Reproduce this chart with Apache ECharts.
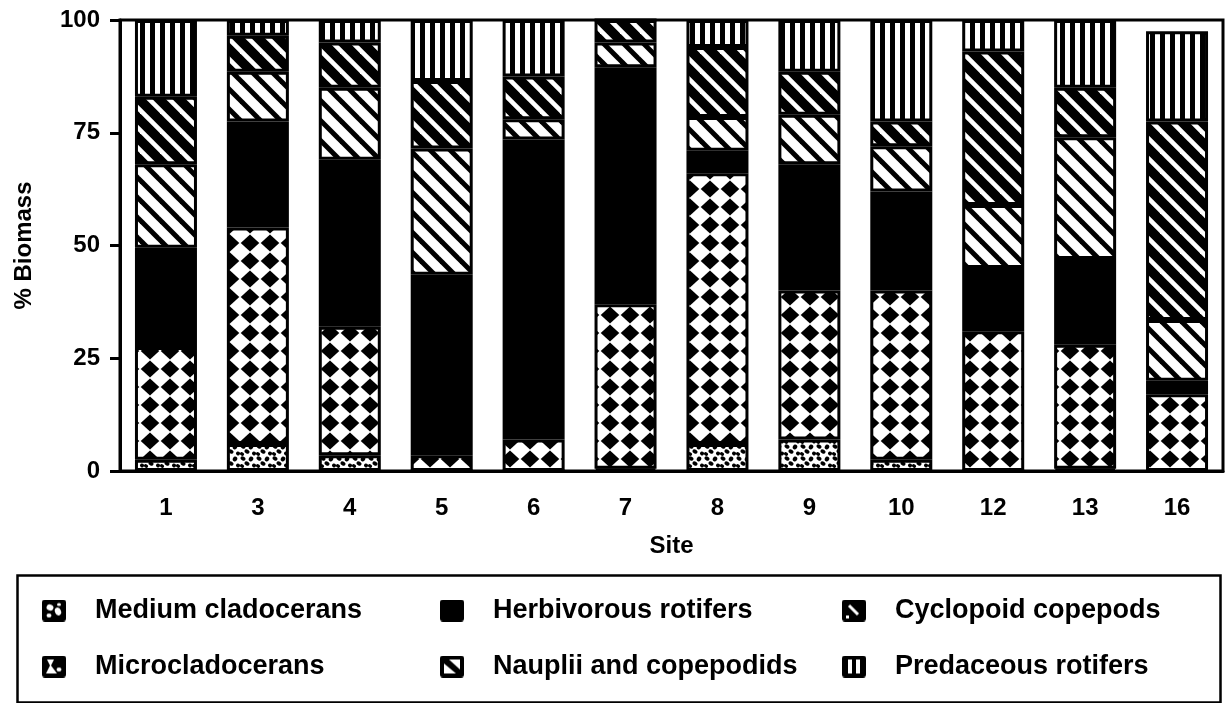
<!DOCTYPE html>
<html>
<head>
<meta charset="utf-8">
<script src="https://cdn.jsdelivr.net/npm/echarts@6/dist/echarts.min.js"></script>
<style>
  html, body { margin: 0; padding: 0; background: #fff; }
  #chart { width: 1232px; height: 703px; }
</style>
</head>
<body>
<div id="chart"></div>
<script>
// Zooplankton biomass composition (% of total) per site
const sites = ['1', '3', '4', '5', '6', '7', '8', '9', '10', '12', '13', '16'];
const mediumCladocerans   = [2.5, 6, 3.5, 0, 0, 0.5, 6, 7, 2.5, 0, 0.5, 0];
const microcladocerans    = [25, 48, 28.5, 3.5, 7, 36.5, 60, 33, 37.5, 31, 27.5, 17];
const herbivorousRotifers = [22, 23.5, 37, 40, 66.5, 52.5, 5, 28, 22, 14, 19, 3];
const naupliiCopepodids   = [18.5, 11, 16, 28, 4.5, 5.5, 7.5, 11, 10, 14, 27, 13.5];
const cyclopoidCopepods   = [15, 8, 10, 15, 9.5, 5, 15.5, 9.5, 5.5, 34, 11, 44];
const predaceousRotifers  = [17, 3.5, 5, 13.5, 12.5, 0, 6, 11.5, 22.5, 7, 15, 20];
const yTicks = [0, 25, 50, 75, 100];

const FONT = '"Liberation Sans", Arial, Helvetica, sans-serif';

function tile(w, h, draw) {
  const c = document.createElement('canvas');
  c.width = w; c.height = h;
  const g = c.getContext('2d');
  g.fillStyle = '#fff';
  g.fillRect(0, 0, w, h);
  g.fillStyle = '#000';
  g.strokeStyle = '#000';
  draw(g, w, h);
  return c;
}

// speckled fill
const speckle = tile(16, 12, (g) => {
  const blobs = [[3, 2.5, 2.6, 1.9], [11, 3, 2.2, 2.5], [7, 7.5, 2.7, 2.0], [14, 9.5, 2.0, 1.9], [2, 10, 2.1, 1.7]];
  blobs.forEach(([x, y, rx, ry]) => { g.beginPath(); g.ellipse(x, y, rx, ry, 0.5, 0, Math.PI * 2); g.fill(); });
});

// diamond checker fill: black diamonds on a 20 x 18 lattice
const diamonds = tile(20, 18, (g) => {
  g.beginPath();
  g.moveTo(10, 0.6); g.lineTo(19.3, 9); g.lineTo(10, 17.4); g.lineTo(0.7, 9);
  g.closePath(); g.fill();
});

// diagonal "\" hatch
function hatch(lineW) {
  return tile(20, 20, (g) => {
    g.lineWidth = lineW;
    for (let x = -40; x <= 40; x += 20) {
      g.beginPath(); g.moveTo(x - 5, -5); g.lineTo(x + 25, 25); g.stroke();
    }
  });
}
const lightHatch = hatch(5);
const heavyHatch = hatch(9.5);

// vertical stripes
const stripes = tile(10, 10, (g) => { g.fillRect(0, 0, 5, 10); });

// legend glyphs
function glyph(draw) {
  const c = document.createElement('canvas');
  c.width = 24; c.height = 22;
  const g = c.getContext('2d');
  g.fillStyle = '#000';
  g.beginPath();
  g.roundRect ? g.roundRect(0, 0, 24, 22, 3) : g.rect(0, 0, 24, 22);
  g.fill();
  g.fillStyle = '#fff';
  g.strokeStyle = '#fff';
  draw(g);
  return 'image://' + c.toDataURL();
}
const icons = {
  medium: glyph((g) => {
    g.beginPath(); g.ellipse(8, 8, 3.5, 3, 0.4, 0, Math.PI * 2); g.fill();
    g.beginPath(); g.ellipse(16, 12, 3, 4, -0.4, 0, Math.PI * 2); g.fill();
    g.beginPath(); g.ellipse(7, 16, 2.5, 2, 0, 0, Math.PI * 2); g.fill();
    g.beginPath(); g.ellipse(17, 5, 2, 1.6, 0, 0, Math.PI * 2); g.fill();
  }),
  micro: glyph((g) => {
    g.beginPath(); g.moveTo(5, 4); g.lineTo(12, 4); g.lineTo(9, 10); g.lineTo(15, 18); g.lineTo(4, 18); g.lineTo(8, 10); g.closePath(); g.fill();
    g.beginPath(); g.ellipse(17, 14, 2.5, 2, 0, 0, Math.PI * 2); g.fill();
  }),
  herb: glyph(() => {}),
  naup: glyph((g) => {
    g.fillRect(4, 4, 16, 14);
    g.fillStyle = '#000';
    g.beginPath(); g.moveTo(4, 4); g.lineTo(9, 4); g.lineTo(20, 14); g.lineTo(20, 18); g.lineTo(16, 18); g.lineTo(4, 8); g.closePath(); g.fill();
  }),
  cyclo: glyph((g) => {
    g.lineWidth = 3;
    g.beginPath(); g.moveTo(7, 6); g.lineTo(16, 15); g.stroke();
    g.fillRect(4, 16, 3, 3);
  }),
  pred: glyph((g) => { g.fillRect(6, 4, 4, 14); g.fillRect(14, 4, 4, 14); })
};

const groups = [
  { name: 'Medium cladocerans',    data: mediumCladocerans,   fill: speckle,    icon: icons.medium },
  { name: 'Microcladocerans',      data: microcladocerans,    fill: diamonds,   icon: icons.micro },
  { name: 'Herbivorous rotifers',  data: herbivorousRotifers, fill: '#000',     icon: icons.herb },
  { name: 'Nauplii and copepodids', data: naupliiCopepodids,  fill: lightHatch, icon: icons.naup },
  { name: 'Cyclopoid copepods',    data: cyclopoidCopepods,   fill: heavyHatch, icon: icons.cyclo },
  { name: 'Predaceous rotifers',   data: predaceousRotifers,  fill: stripes,    icon: icons.pred }
];

const series = groups.map((s) => ({
  name: s.name,
  type: 'bar',
  stack: 'biomass',
  barWidth: 62,
  data: s.data,
  silent: true,
  itemStyle: {
    color: typeof s.fill === 'string' ? s.fill : { image: s.fill, repeat: 'repeat' },
    borderColor: '#000',
    borderWidth: 3
  }
}));

function legendColumn(names, left) {
  return {
    orient: 'vertical',
    left: left,
    top: 592,
    itemWidth: 24,
    itemHeight: 22,
    itemGap: 29,
    selectedMode: false,
    data: names.map((n) => {
      const g = groups.find((x) => x.name === n);
      return { name: n, icon: g.icon };
    }),
    textStyle: { fontFamily: FONT, fontWeight: 'bold', fontSize: 27, color: '#000', padding: [0, 0, 0, 24] }
  };
}

const chart = echarts.init(document.getElementById('chart'), null, { renderer: 'canvas' });
chart.setOption({
  backgroundColor: '#fff',
  animation: false,
  grid: { left: 120, right: 9, top: 20, bottom: 232, show: true, borderColor: '#000', borderWidth: 3, backgroundColor: 'transparent' },
  xAxis: {
    type: 'category',
    data: sites,
    name: 'Site',
    nameLocation: 'middle',
    nameGap: 63,
    nameTextStyle: { fontFamily: FONT, fontWeight: 'bold', fontSize: 24, color: '#000' },
    axisLine: { lineStyle: { color: '#000', width: 3 } },
    axisTick: { alignWithLabel: true, length: 12, lineStyle: { color: '#000', width: 3 } },
    axisLabel: { margin: 25, fontFamily: FONT, fontWeight: 'bold', fontSize: 24, color: '#000' }
  },
  yAxis: {
    type: 'value',
    min: yTicks[0],
    max: yTicks[yTicks.length - 1],
    interval: yTicks[1] - yTicks[0],
    name: '% Biomass',
    nameLocation: 'middle',
    nameRotate: 90,
    nameGap: 84,
    nameTextStyle: { fontFamily: FONT, fontWeight: 'bold', fontSize: 24, color: '#000' },
    axisLine: { show: true, lineStyle: { color: '#000', width: 3 } },
    axisTick: { show: true, length: 10, lineStyle: { color: '#000', width: 3 } },
    splitLine: { show: false },
    axisLabel: { margin: 20, fontFamily: FONT, fontWeight: 'bold', fontSize: 24, color: '#000' }
  },
  legend: [
    legendColumn(['Medium cladocerans', 'Microcladocerans'], 37),
    legendColumn(['Herbivorous rotifers', 'Nauplii and copepodids'], 435),
    legendColumn(['Cyclopoid copepods', 'Predaceous rotifers'], 837)
  ],
  graphic: [{
    type: 'rect',
    left: 15,
    top: 573,
    shape: { width: 1203, height: 127 },
    style: { fill: 'none', stroke: '#000', lineWidth: 2.5 },
    silent: true
  }],
  series: series
});
</script>
</body>
</html>
